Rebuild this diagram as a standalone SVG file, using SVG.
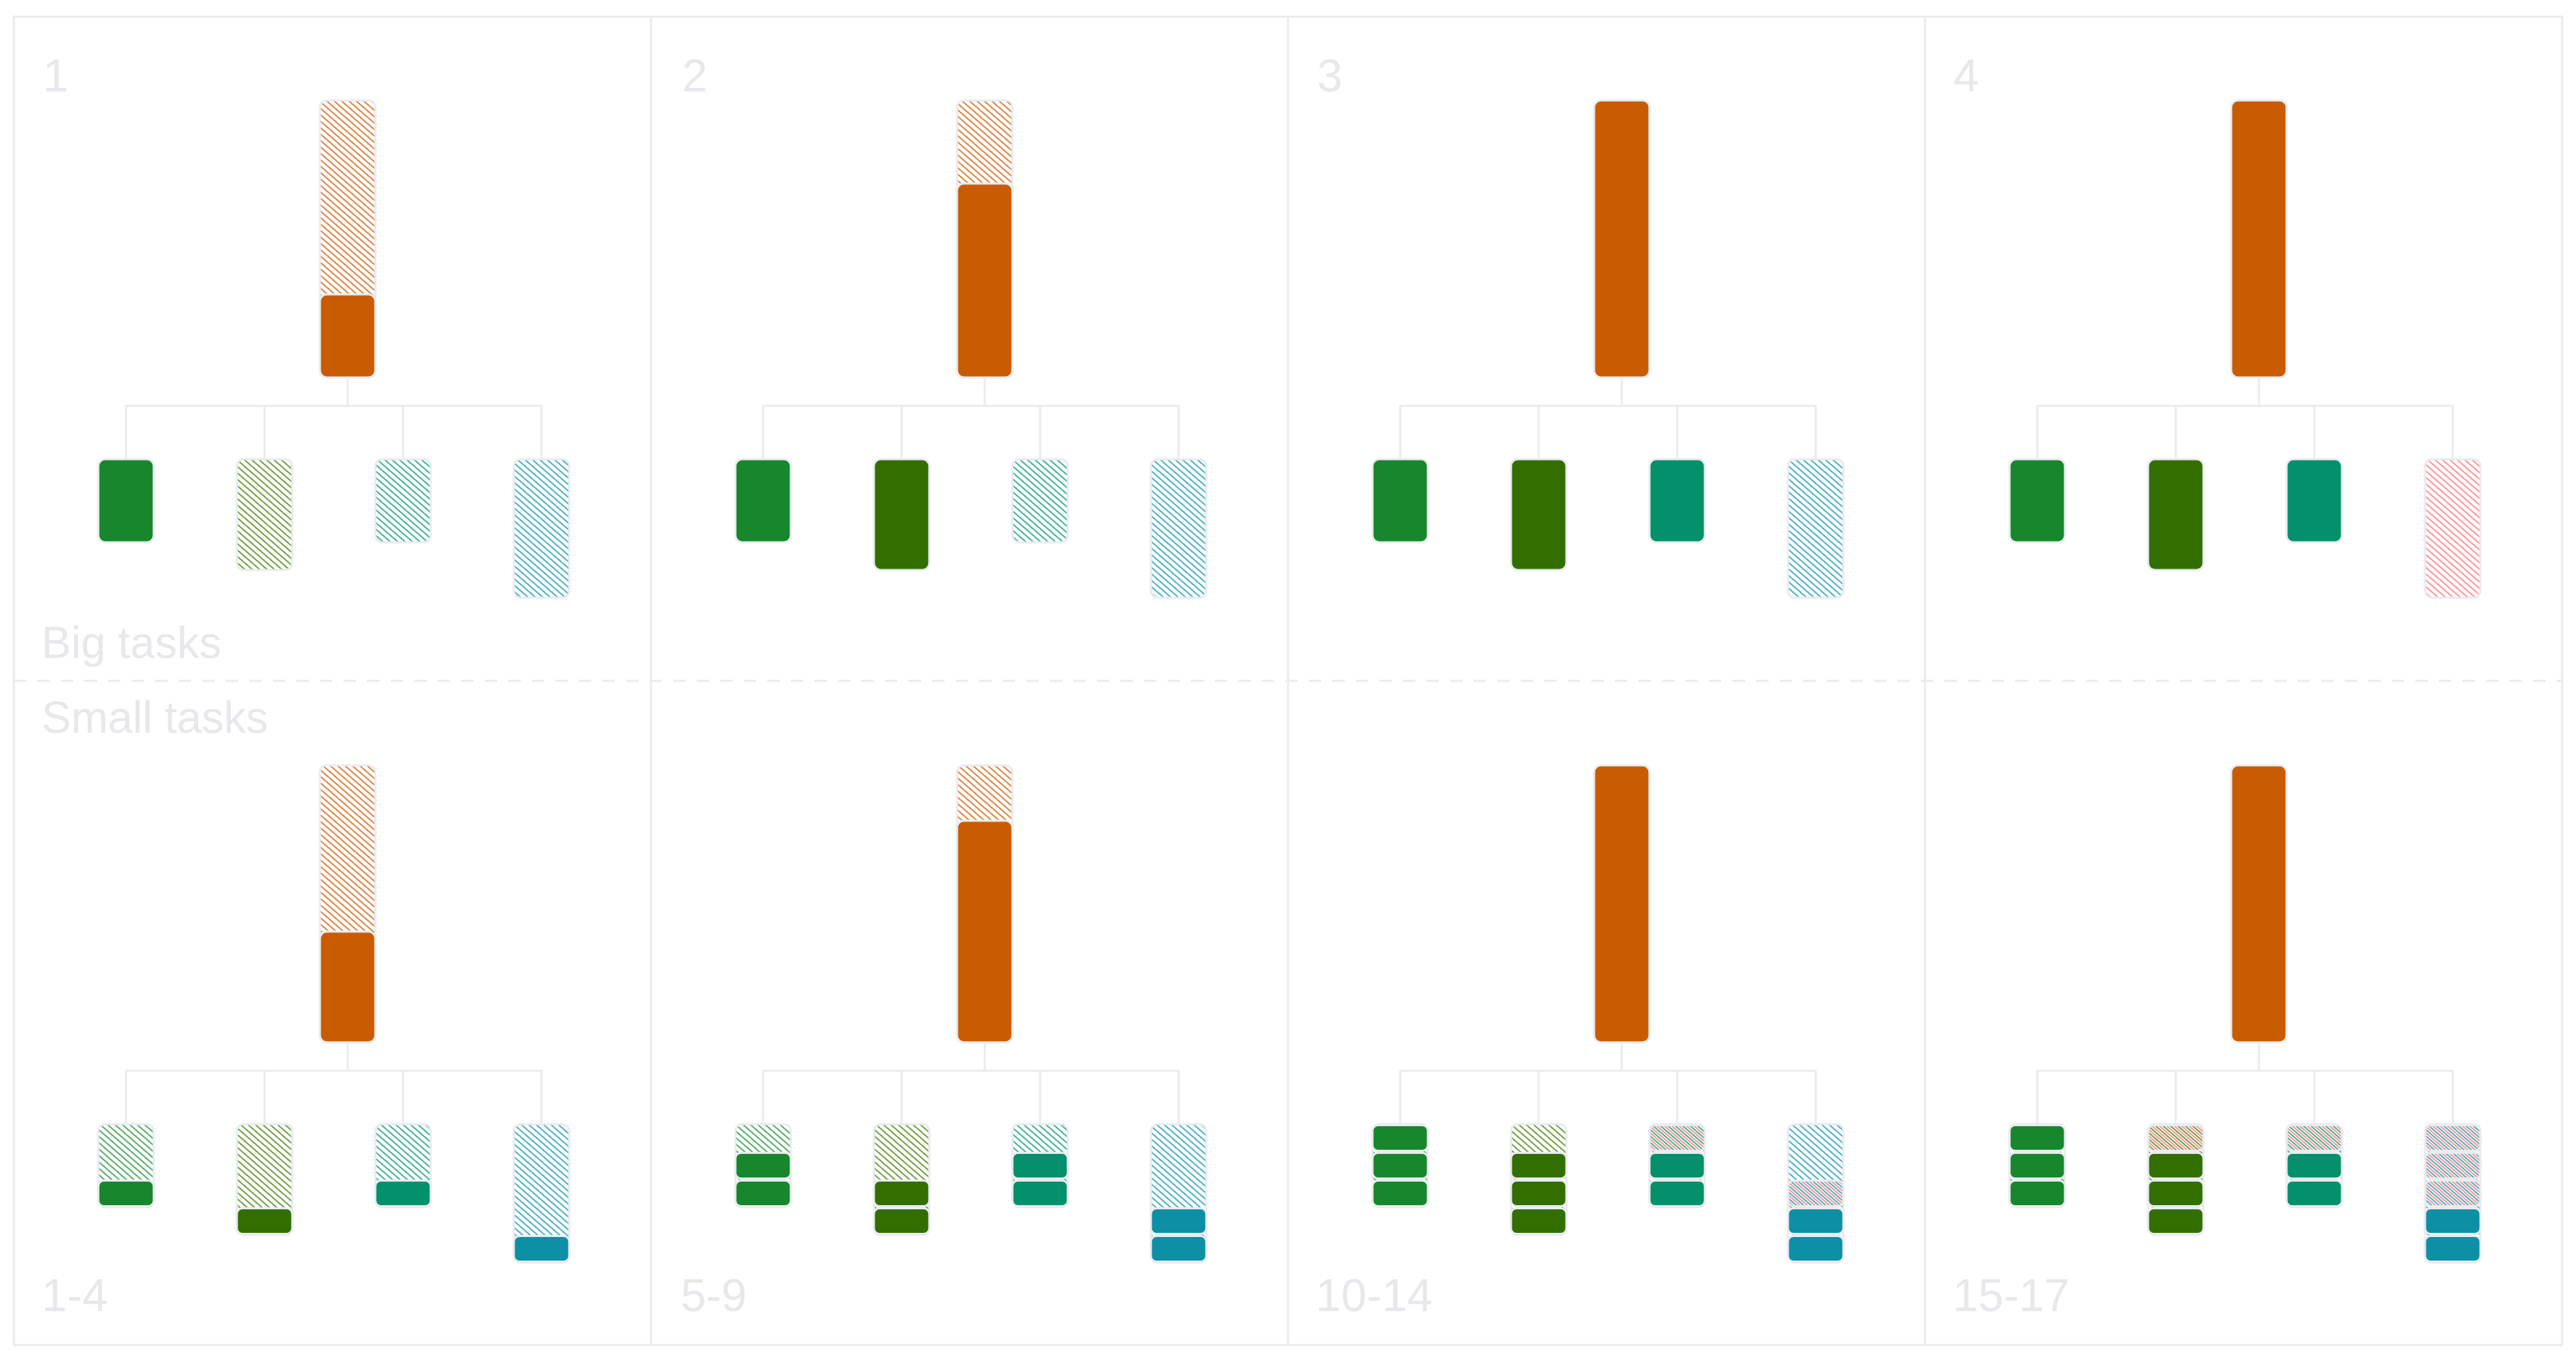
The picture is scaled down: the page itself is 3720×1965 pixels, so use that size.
<svg xmlns="http://www.w3.org/2000/svg" width="3720" height="1965" viewBox="0 0 3720 1965">
<style>
.fr{fill:none;stroke:#e9ecef;stroke-width:3}
.dash{fill:none;stroke:#e9ecef;stroke-width:3;stroke-dasharray:18 16}
.ln{fill:none;stroke:#e9ecef;stroke-width:3;stroke-linecap:round}
.bx{stroke:#e9ecef;stroke-width:3}
.o{fill:#c95c02}.g{fill:#18862c}.l{fill:#336e00}.t{fill:#04906a}.c{fill:#0d8fa5}
.hO{fill:url(#hO)}.hG{fill:url(#hG)}.hL{fill:url(#hL)}.hT{fill:url(#hT)}.hC{fill:url(#hC)}.hR{fill:url(#hR)}
.txt{font-family:"Liberation Sans",Arial,sans-serif;font-size:64px;fill:#e8e8ec}
.num{font-family:"Liberation Sans",Arial,sans-serif;font-size:66px;fill:#e8e8ec}
</style>
<defs>
<pattern id="hO" patternUnits="userSpaceOnUse" width="8" height="7" patternTransform="rotate(41)"><line x1="0" y1="3.5" x2="8" y2="3.5" stroke="#d25e08" stroke-width="1.6"/></pattern>
<pattern id="hG" patternUnits="userSpaceOnUse" width="8" height="7" patternTransform="rotate(41)"><line x1="0" y1="3.5" x2="8" y2="3.5" stroke="#249338" stroke-width="1.6"/></pattern>
<pattern id="hL" patternUnits="userSpaceOnUse" width="8" height="7" patternTransform="rotate(41)"><line x1="0" y1="3.5" x2="8" y2="3.5" stroke="#48820a" stroke-width="1.6"/></pattern>
<pattern id="hT" patternUnits="userSpaceOnUse" width="8" height="7" patternTransform="rotate(41)"><line x1="0" y1="3.5" x2="8" y2="3.5" stroke="#0a9a73" stroke-width="1.6"/></pattern>
<pattern id="hC" patternUnits="userSpaceOnUse" width="8" height="7" patternTransform="rotate(41)"><line x1="0" y1="3.5" x2="8" y2="3.5" stroke="#1598b2" stroke-width="1.6"/></pattern>
<pattern id="hR" patternUnits="userSpaceOnUse" width="8" height="7" patternTransform="rotate(41) translate(0,3.5)"><line x1="0" y1="3.5" x2="8" y2="3.5" stroke="#ff7a7a" stroke-width="1.7"/></pattern>
</defs>
<rect width="3720" height="1965" fill="#ffffff"/>
<g id="frames">
<rect class="fr" x="20" y="24" width="3680" height="1918"/>
<line class="fr" x1="940" y1="24" x2="940" y2="1942"/>
<line class="fr" x1="1860" y1="24" x2="1860" y2="1942"/>
<line class="fr" x1="2780" y1="24" x2="2780" y2="1942"/>
<line class="dash" x1="20" y1="983" x2="3700" y2="983"/>
</g>
<g id="connectors">
<path class="ln" d="M502 545V586M182 586H782M182 586V663M382 586V663M582 586V663M782 586V663"/>
<path class="ln" d="M1422 545V586M1102 586H1702M1102 586V663M1302 586V663M1502 586V663M1702 586V663"/>
<path class="ln" d="M2342 545V586M2022 586H2622M2022 586V663M2222 586V663M2422 586V663M2622 586V663"/>
<path class="ln" d="M3262 545V586M2942 586H3542M2942 586V663M3142 586V663M3342 586V663M3542 586V663"/>
<path class="ln" d="M502 1505V1546M182 1546H782M182 1546V1623M382 1546V1623M582 1546V1623M782 1546V1623"/>
<path class="ln" d="M1422 1505V1546M1102 1546H1702M1102 1546V1623M1302 1546V1623M1502 1546V1623M1702 1546V1623"/>
<path class="ln" d="M2342 1505V1546M2022 1546H2622M2022 1546V1623M2222 1546V1623M2422 1546V1623M2622 1546V1623"/>
<path class="ln" d="M3262 1505V1546M2942 1546H3542M2942 1546V1623M3142 1546V1623M3342 1546V1623M3542 1546V1623"/>
</g>
<g id="p1-top">
<g id="p1-parent"><rect class="bx hO" x="462" y="145" width="80" height="400" rx="10"/><rect class="bx o" x="462" y="425" width="80" height="120" rx="10"/></g>
<g id="p1-c1"><rect class="bx g" x="142" y="663" width="80" height="120" rx="10"/></g>
<g id="p1-c2"><rect class="bx hL" x="342" y="663" width="80" height="160" rx="10"/></g>
<g id="p1-c3"><rect class="bx hT" x="542" y="663" width="80" height="120" rx="10"/></g>
<g id="p1-c4"><rect class="bx hC" x="742" y="663" width="80" height="200" rx="10"/></g>
</g>
<g id="p2-top">
<g id="p2-parent"><rect class="bx hO" x="1382" y="145" width="80" height="400" rx="10"/><rect class="bx o" x="1382" y="265" width="80" height="280" rx="10"/></g>
<g id="p2-c1"><rect class="bx g" x="1062" y="663" width="80" height="120" rx="10"/></g>
<g id="p2-c2"><rect class="bx l" x="1262" y="663" width="80" height="160" rx="10"/></g>
<g id="p2-c3"><rect class="bx hT" x="1462" y="663" width="80" height="120" rx="10"/></g>
<g id="p2-c4"><rect class="bx hC" x="1662" y="663" width="80" height="200" rx="10"/></g>
</g>
<g id="p3-top">
<g id="p3-parent"><rect class="bx o" x="2302" y="145" width="80" height="400" rx="10"/></g>
<g id="p3-c1"><rect class="bx g" x="1982" y="663" width="80" height="120" rx="10"/></g>
<g id="p3-c2"><rect class="bx l" x="2182" y="663" width="80" height="160" rx="10"/></g>
<g id="p3-c3"><rect class="bx t" x="2382" y="663" width="80" height="120" rx="10"/></g>
<g id="p3-c4"><rect class="bx hC" x="2582" y="663" width="80" height="200" rx="10"/></g>
</g>
<g id="p4-top">
<g id="p4-parent"><rect class="bx o" x="3222" y="145" width="80" height="400" rx="10"/></g>
<g id="p4-c1"><rect class="bx g" x="2902" y="663" width="80" height="120" rx="10"/></g>
<g id="p4-c2"><rect class="bx l" x="3102" y="663" width="80" height="160" rx="10"/></g>
<g id="p4-c3"><rect class="bx t" x="3302" y="663" width="80" height="120" rx="10"/></g>
<g id="p4-c4"><rect class="bx hR" x="3502" y="663" width="80" height="200" rx="10"/></g>
</g>
<g id="p1-bottom">
<g id="q1-parent"><rect class="bx hO" x="462" y="1105" width="80" height="400" rx="10"/><rect class="bx o" x="462" y="1345" width="80" height="160" rx="10"/></g>
<g id="q1-c1"><rect class="bx hG" x="142" y="1623" width="80" height="120" rx="10"/><rect class="bx g" x="142" y="1704.5" width="80" height="37" rx="8"/></g>
<g id="q1-c2"><rect class="bx hL" x="342" y="1623" width="80" height="160" rx="10"/><rect class="bx l" x="342" y="1744.5" width="80" height="37" rx="8"/></g>
<g id="q1-c3"><rect class="bx hT" x="542" y="1623" width="80" height="120" rx="10"/><rect class="bx t" x="542" y="1704.5" width="80" height="37" rx="8"/></g>
<g id="q1-c4"><rect class="bx hC" x="742" y="1623" width="80" height="200" rx="10"/><rect class="bx c" x="742" y="1784.5" width="80" height="37" rx="8"/></g>
</g>
<g id="p2-bottom">
<g id="q2-parent"><rect class="bx hO" x="1382" y="1105" width="80" height="400" rx="10"/><rect class="bx o" x="1382" y="1185" width="80" height="320" rx="10"/></g>
<g id="q2-c1"><rect class="bx hG" x="1062" y="1623" width="80" height="120" rx="10"/><rect class="bx g" x="1062" y="1664.5" width="80" height="37" rx="8"/><rect class="bx g" x="1062" y="1704.5" width="80" height="37" rx="8"/></g>
<g id="q2-c2"><rect class="bx hL" x="1262" y="1623" width="80" height="160" rx="10"/><rect class="bx l" x="1262" y="1704.5" width="80" height="37" rx="8"/><rect class="bx l" x="1262" y="1744.5" width="80" height="37" rx="8"/></g>
<g id="q2-c3"><rect class="bx hT" x="1462" y="1623" width="80" height="120" rx="10"/><rect class="bx t" x="1462" y="1664.5" width="80" height="37" rx="8"/><rect class="bx t" x="1462" y="1704.5" width="80" height="37" rx="8"/></g>
<g id="q2-c4"><rect class="bx hC" x="1662" y="1623" width="80" height="200" rx="10"/><rect class="bx c" x="1662" y="1744.5" width="80" height="37" rx="8"/><rect class="bx c" x="1662" y="1784.5" width="80" height="37" rx="8"/></g>
</g>
<g id="p3-bottom">
<g id="q3-parent"><rect class="bx o" x="2302" y="1105" width="80" height="400" rx="10"/></g>
<g id="q3-c1"><rect class="bx hG" x="1982" y="1623" width="80" height="120" rx="10"/><rect class="bx g" x="1982" y="1624.5" width="80" height="37" rx="8"/><rect class="bx g" x="1982" y="1664.5" width="80" height="37" rx="8"/><rect class="bx g" x="1982" y="1704.5" width="80" height="37" rx="8"/></g>
<g id="q3-c2"><rect class="bx hL" x="2182" y="1623" width="80" height="160" rx="10"/><rect class="bx l" x="2182" y="1664.5" width="80" height="37" rx="8"/><rect class="bx l" x="2182" y="1704.5" width="80" height="37" rx="8"/><rect class="bx l" x="2182" y="1744.5" width="80" height="37" rx="8"/></g>
<g id="q3-c3"><rect class="bx hT" x="2382" y="1623" width="80" height="120" rx="10"/><rect class="bx hR" x="2382" y="1624.5" width="80" height="37" rx="8"/><rect class="bx t" x="2382" y="1664.5" width="80" height="37" rx="8"/><rect class="bx t" x="2382" y="1704.5" width="80" height="37" rx="8"/></g>
<g id="q3-c4"><rect class="bx hC" x="2582" y="1623" width="80" height="200" rx="10"/><rect class="bx hR" x="2582" y="1704.5" width="80" height="37" rx="8"/><rect class="bx c" x="2582" y="1744.5" width="80" height="37" rx="8"/><rect class="bx c" x="2582" y="1784.5" width="80" height="37" rx="8"/></g>
</g>
<g id="p4-bottom">
<g id="q4-parent"><rect class="bx o" x="3222" y="1105" width="80" height="400" rx="10"/></g>
<g id="q4-c1"><rect class="bx hG" x="2902" y="1623" width="80" height="120" rx="10"/><rect class="bx g" x="2902" y="1624.5" width="80" height="37" rx="8"/><rect class="bx g" x="2902" y="1664.5" width="80" height="37" rx="8"/><rect class="bx g" x="2902" y="1704.5" width="80" height="37" rx="8"/></g>
<g id="q4-c2"><rect class="bx hL" x="3102" y="1623" width="80" height="160" rx="10"/><rect class="bx hR" x="3102" y="1624.5" width="80" height="37" rx="8"/><rect class="bx l" x="3102" y="1664.5" width="80" height="37" rx="8"/><rect class="bx l" x="3102" y="1704.5" width="80" height="37" rx="8"/><rect class="bx l" x="3102" y="1744.5" width="80" height="37" rx="8"/></g>
<g id="q4-c3"><rect class="bx hT" x="3302" y="1623" width="80" height="120" rx="10"/><rect class="bx hR" x="3302" y="1624.5" width="80" height="37" rx="8"/><rect class="bx t" x="3302" y="1664.5" width="80" height="37" rx="8"/><rect class="bx t" x="3302" y="1704.5" width="80" height="37" rx="8"/></g>
<g id="q4-c4"><rect class="bx hC" x="3502" y="1623" width="80" height="200" rx="10"/><rect class="bx hR" x="3502" y="1624.5" width="80" height="37" rx="8"/><rect class="bx hR" x="3502" y="1664.5" width="80" height="37" rx="8"/><rect class="bx hR" x="3502" y="1704.5" width="80" height="37" rx="8"/><rect class="bx c" x="3502" y="1744.5" width="80" height="37" rx="8"/><rect class="bx c" x="3502" y="1784.5" width="80" height="37" rx="8"/></g>
</g>
<g id="labels">
<text class="num" x="62" y="132">1</text>
<text class="num" x="985" y="132">2</text>
<text class="num" x="1902" y="132">3</text>
<text class="num" x="2821" y="132">4</text>
<text class="txt" x="60" y="950">Big tasks</text>
<text class="txt" x="60" y="1058">Small tasks</text>
<text class="num" x="60" y="1893">1-4</text>
<text class="num" x="983" y="1893">5-9</text>
<text class="num" x="1900" y="1893">10-14</text>
<text class="num" x="2820" y="1893">15-17</text>
</g>
</svg>
